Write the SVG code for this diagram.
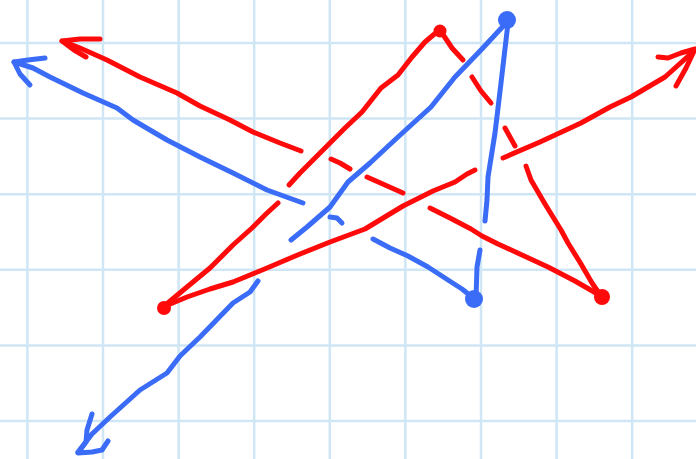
<svg xmlns="http://www.w3.org/2000/svg" width="696" height="459" viewBox="0 0 696 459">
<style>
.grid line{stroke:#cfe6f5;stroke-width:2.5}
.r{fill:none;stroke:#ff0a0a;stroke-width:5;stroke-linecap:round;stroke-linejoin:round}
.b{fill:none;stroke:#3a6cf7;stroke-width:5;stroke-linecap:round;stroke-linejoin:round}
.rd{fill:#ff0a0a}
.bd{fill:#3a6cf7}
</style>
<rect width="696" height="459" fill="#ffffff"/>
<g class="grid" id="grid">
<line x1="27.4" y1="0" x2="27.4" y2="459"/>
<line x1="103" y1="0" x2="103" y2="459"/>
<line x1="178.6" y1="0" x2="178.6" y2="459"/>
<line x1="254.2" y1="0" x2="254.2" y2="459"/>
<line x1="329.8" y1="0" x2="329.8" y2="459"/>
<line x1="405.4" y1="0" x2="405.4" y2="459"/>
<line x1="481" y1="0" x2="481" y2="459"/>
<line x1="556.6" y1="0" x2="556.6" y2="459"/>
<line x1="632.2" y1="0" x2="632.2" y2="459"/>
<line x1="0" y1="43" x2="696" y2="43"/>
<line x1="0" y1="118.6" x2="696" y2="118.6"/>
<line x1="0" y1="194.2" x2="696" y2="194.2"/>
<line x1="0" y1="269.8" x2="696" y2="269.8"/>
<line x1="0" y1="345.4" x2="696" y2="345.4"/>
<line x1="0" y1="421" x2="696" y2="421"/>
</g>
<g id="red-strokes">
<!-- red line from bottom-left dot up to top dot -->
<path class="r" d="M163,307 L187,287 L210,268 L233,245 L252,228 L266,214 L278,203"/>
<path class="r" d="M289,185 L300,173 L312,161 L330,143 L345,128 L362,112 L381,88 L398,75 L412,57 L425,42 L438,31"/>
<!-- dashed red from top dot to right dot -->
<path class="r" d="M442,33 L452,48 L463,60"/>
<path class="r" d="M472,77 L481,91 L491,103"/>
<path class="r" d="M505,128 L510,137 L515,146"/>
<path class="r" d="M526,166 L531,180 L545,204 L561,230 L568,243 L581,264 L592,283 L601,296"/>
<!-- red line from right dot to top-left arrow -->
<path class="r" d="M601,296 L575,281 L548,267 L522,255 L498,244 L482,236 L471,229 L450,218 L430,208"/>
<path class="r" d="M403,193 L385,185 L367,177"/>
<path class="r" d="M350,169 L340,163 L331,159"/>
<path class="r" d="M301,151 L280,143 L253,132 L230,120 L200,106 L177,93 L140,77 L107,60 L80,48 L62,41"/>
<path class="r" d="M100,39 L80,39 L62,41 L74,50 L86,57"/>
<!-- red line from bottom-left dot to top-right arrow -->
<path class="r" d="M163,307 L187,297 L210,289 L233,282 L250,275 L267,268 L300,254 L330,242 L365,229 L403,206 L433,191 L455,182 L467,174 L475,170"/>
<path class="r" d="M503,158 L540,142 L581,123 L610,107 L631,97 L665,77 L695,50"/>
<path class="r" d="M658,57 L668,58 L681,53 L695,49 L686,68 L676,86"/>
<circle class="rd" cx="164" cy="308" r="7"/>
<circle class="rd" cx="440" cy="31" r="6.5"/>
<circle class="rd" cx="602" cy="297" r="8"/>
</g>
<g id="blue-strokes">
<!-- blue left arrow -->
<path class="b" d="M303,203 L267,190 L233,173 L200,157 L167,140 L133,120 L117,108 L83,93 L50,77 L33,68 L14,62"/>
<path class="b" d="M45,58 L28,60 L14,62 L20,74 L30,85"/>
<path class="b" d="M330,217 L337,218 L342,223"/>
<path class="b" d="M373,239 L390,248 L408,256 L428,267 L448,280 L462,289 L472,297"/>
<!-- blue vertical -->
<path class="b" d="M476,298 L477,267 L480,250"/>
<path class="b" d="M485,221 L487,200 L488,177 L495,133 L501,83 L508,23"/>
<!-- blue long diagonal with arrow -->
<path class="b" d="M507,22 L481,50 L455,77 L431,107 L398,137 L370,163 L348,182 L330,207 L307,227 L291,240"/>
<path class="b" d="M258,281 L250,292 L233,303 L200,337 L180,356 L167,373 L140,390 L110,417 L92,434 L78,452"/>
<path class="b" d="M92,414 L87,430 L86,442 L78,453 L92,452 L102,450 L108,441"/>
<circle class="bd" cx="507" cy="20" r="9"/>
<circle class="bd" cx="474" cy="299" r="9"/>
</g>
</svg>
